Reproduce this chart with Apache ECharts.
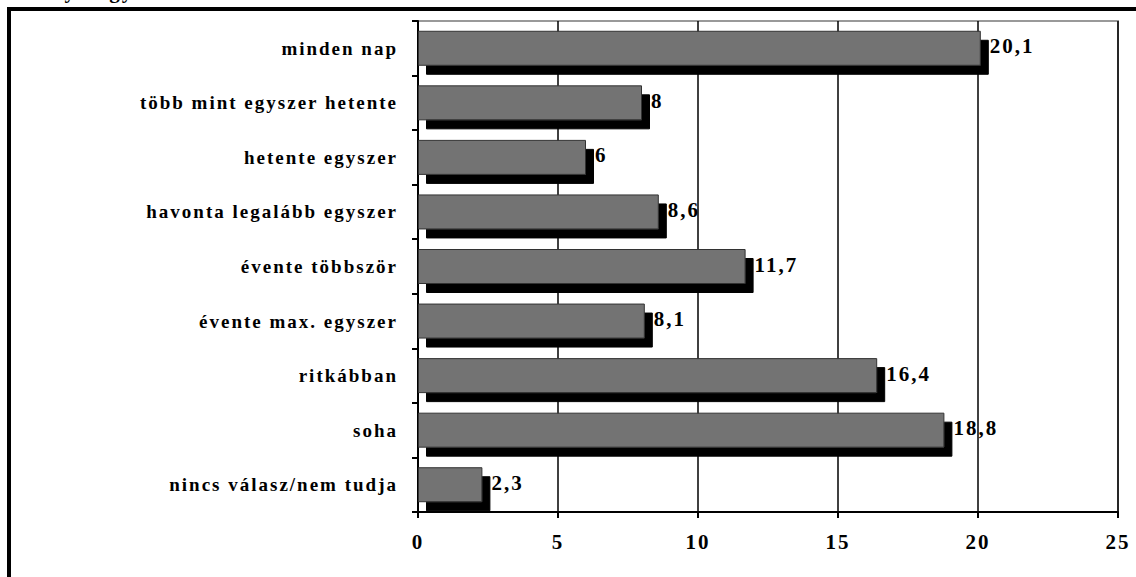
<!DOCTYPE html>
<html>
<head>
<meta charset="utf-8">
<script src="https://cdn.jsdelivr.net/npm/echarts@6/dist/echarts.min.js"></script>
<style>
  html, body { margin: 0; padding: 0; background: #fff; }
  #chart { width: 1136px; height: 577px; }
  #chart text { letter-spacing: 2px; }
</style>
</head>
<body>
<div id="chart"></div>
<script>
const titleText = '5. Milyen gyakran szokott Ön internetezni?';
const categories = [
  'minden nap',
  'több mint egyszer hetente',
  'hetente egyszer',
  'havonta legalább egyszer',
  'évente többször',
  'évente max. egyszer',
  'ritkábban',
  'soha',
  'nincs válasz/nem tudja'
];
const values = [20.1, 8, 6, 8.6, 11.7, 8.1, 16.4, 18.8, 2.3];
const xTicks = { min: 0, max: 25, interval: 5 };

const FONT = "'Liberation Serif', 'Times New Roman', serif";
const chart = echarts.init(document.getElementById('chart'), null, { renderer: 'svg' });
chart.setOption({
  animation: false,
  backgroundColor: '#fff',
  title: {
    text: titleText,
    left: 0,
    top: -20,
    padding: 0,
    textStyle: { fontFamily: FONT, fontWeight: 'bold', fontSize: 21, color: '#000' }
  },
  graphic: [{
    type: 'rect',
    shape: { x: 9, y: 9, width: 1300, height: 800 },
    style: { fill: null, stroke: '#000', lineWidth: 4 },
    z: 100
  }],
  grid: {
    left: 418, right: 18, top: 21, bottom: 65,
    show: true, borderColor: '#999', borderWidth: 2, backgroundColor: 'transparent'
  },
  xAxis: {
    type: 'value',
    min: xTicks.min, max: xTicks.max, interval: xTicks.interval,
    axisLine: { show: true, lineStyle: { color: '#000', width: 2 } },
    axisTick: { show: true, length: 6, lineStyle: { color: '#000', width: 2 } },
    splitLine: { show: true, lineStyle: { color: '#000', width: 1.5 } },
    axisLabel: { margin: 19, fontFamily: FONT, fontWeight: 'bold', fontSize: 21, color: '#000' }
  },
  yAxis: {
    type: 'category',
    data: categories,
    inverse: true,
    axisLine: { show: true, lineStyle: { color: '#000', width: 2 } },
    axisTick: { show: true, length: 6, lineStyle: { color: '#000', width: 2 } },
    axisLabel: { margin: 20, fontFamily: FONT, fontWeight: 'bold', fontSize: 19, color: '#000' }
  },
  series: [{
    type: 'bar',
    data: values,
    barWidth: 35,
    itemStyle: {
      color: '#737373',
      borderColor: '#333',
      borderWidth: 1,
      shadowColor: '#000',
      shadowBlur: 0,
      shadowOffsetX: 8,
      shadowOffsetY: 9
    },
    label: {
      show: true,
      position: 'right',
      distance: 9,
      offset: [0, -2],
      fontFamily: FONT,
      fontWeight: 'bold',
      fontSize: 21,
      color: '#000',
      formatter: p => String(p.value).replace('.', ',')
    }
  }]
});
</script>
</body>
</html>
